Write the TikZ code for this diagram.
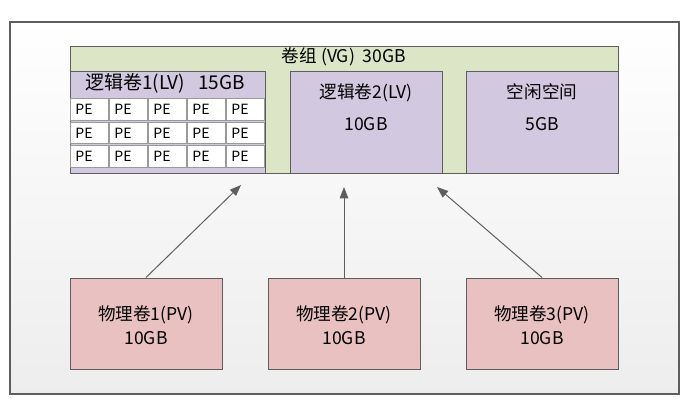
\documentclass[tikz,border=0pt]{standalone}
\usepackage{fontspec}
\setmainfont{Noto Sans CJK SC}
\usetikzlibrary{arrows.meta}

\definecolor{vggreen}{HTML}{DCE6C6}
\definecolor{lvpurple}{HTML}{D2C8E0}
\definecolor{pvpink}{HTML}{EAC1C1}
\definecolor{linegray}{HTML}{5E5E5E}
\definecolor{cellgray}{HTML}{9A9A9A}

\def\px{0.025cm} % one pixel of the reference

\tikzset{
  box/.style={draw=linegray, line width=0.7pt, inner sep=0pt, anchor=center},
  pecell/.style={draw=cellgray, line width=0.5pt, fill=white, inner sep=0pt,
    minimum width=38*\px, minimum height=21.5*\px},
  petext/.style={anchor=west, inner sep=0pt, font=\fontsize{10}{10}\selectfont},
  label/.style={align=center, inner sep=0pt, font=\fontsize{12.5}{17}\selectfont},
  link/.style={draw=linegray, line width=0.7pt, -{Triangle[length=8pt,width=6pt]}},
}

\begin{document}
\begin{tikzpicture}[x=\px, y=-\px]
\useasboundingbox (0,0) rectangle (688,401);

% outer frame
\draw[draw=linegray, line width=1.4pt, top color=white!95!black!2, bottom color=black!7]
  (10,22) rectangle (679,394);

% volume group
\node[box, fill=vggreen, minimum width=548*\px, minimum height=127*\px] (vg) at (344,109.5) {};
\node[label] (vgtitle) at (344,57) {卷组 (VG)\ \ 30GB};

% logical volume 1 with its PE cells
\node[box, fill=lvpurple, minimum width=195*\px, minimum height=102*\px] (lv1) at (167.5,122) {};
\node[label, font=\fontsize{13.5}{17}\selectfont] (lv1title) at (165,83) {逻辑卷1(LV)\ \ \ 15GB};
\foreach \row in {0,1,2}{
  \foreach \col in {0,...,4}{
    \node[pecell] (pe\row\col) at (89.5+39*\col, 109.5+23.5*\row) {};
    \node[petext] at ([xshift=5*\px]pe\row\col.west) {PE};
  }
}

% logical volume 2 and free space
\node[box, fill=lvpurple, minimum width=152*\px, minimum height=102*\px] (lv2) at (366,122) {};
\node[label, font=\fontsize{12.5}{23}\selectfont] (lv2text) at (366,107) {逻辑卷2(LV)\\10GB};
\node[box, fill=lvpurple, minimum width=152*\px, minimum height=102*\px] (free) at (542,122) {};
\node[label, font=\fontsize{12.5}{23}\selectfont] (freetext) at (542,107) {空闲空间\\5GB};

% physical volumes
\node[box, fill=pvpink, minimum width=152*\px, minimum height=91*\px] (pv1) at (146,323.5) {};
\node[label] at (146,325) {物理卷1(PV)\\10GB};
\node[box, fill=pvpink, minimum width=152*\px, minimum height=91*\px] (pv2) at (344,323.5) {};
\node[label] at (344,325) {物理卷2(PV)\\10GB};
\node[box, fill=pvpink, minimum width=152*\px, minimum height=91*\px] (pv3) at (542,323.5) {};
\node[label] at (542,325) {物理卷3(PV)\\10GB};

% arrows
\coordinate (tip1) at (241,185);
\coordinate (tip2) at (344,187);
\coordinate (tip3) at (437,187);
\draw[link] (pv1.north) -- (tip1);
\draw[link] (pv2.north) -- (tip2);
\draw[link] (pv3.north) -- (tip3);
\end{tikzpicture}
\end{document}
